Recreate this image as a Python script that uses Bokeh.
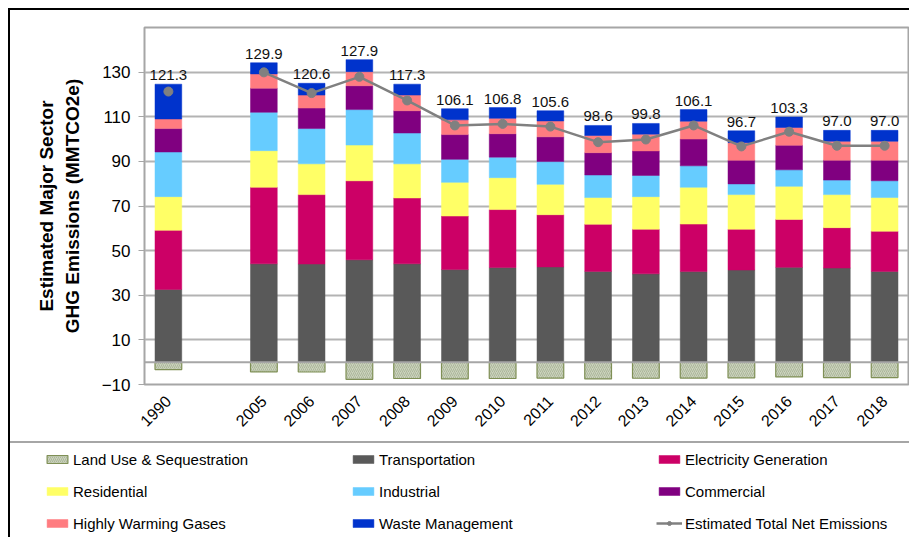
import math
from bokeh.plotting import figure
from bokeh.models import (ColumnDataSource, FactorRange, Legend, LegendItem, Span,
                          FixedTicker, Range1d)
from bokeh.layouts import column
from bokeh.embed import file_html
from bokeh.resources import INLINE
from bokeh.core.properties import value

# ---------------- data ----------------
years = ["1990", "2005", "2006", "2007", "2008", "2009", "2010", "2011",
         "2012", "2013", "2014", "2015", "2016", "2017", "2018"]
gap_label = " "
land_use = [-3.3, -4.3, -4.4, -7.7, -7.3, -7.5, -7.3, -7.1, -7.5, -7.2, -7.1, -7.0, -6.6, -6.9, -6.9]
transportation = [32.6, 44.1, 44.0, 45.9, 44.1, 41.5, 42.4, 42.7, 40.7, 39.6, 40.6, 41.3, 42.5, 42.2, 40.7]
electricity = [26.5, 34.3, 31.1, 35.4, 29.5, 24.0, 26.0, 23.4, 21.1, 20.0, 21.3, 18.3, 21.5, 18.1, 18.0]
residential = [15.1, 16.4, 13.8, 16.0, 15.3, 15.1, 14.3, 13.6, 12.0, 14.6, 16.5, 15.5, 14.8, 14.8, 15.1]
industrial = [20.0, 17.2, 15.8, 15.9, 13.8, 10.3, 9.2, 10.2, 10.1, 9.5, 9.6, 4.8, 7.4, 6.5, 7.5]
commercial = [10.5, 10.8, 9.2, 10.7, 10.0, 11.1, 10.5, 11.1, 10.0, 11.0, 12.0, 10.6, 11.0, 8.9, 9.2]
warming_gases = [4.3, 6.4, 5.8, 6.3, 7.0, 6.6, 6.9, 7.1, 7.7, 7.5, 8.0, 7.9, 8.0, 8.5, 8.5]
waste = [15.6, 5.0, 5.3, 5.4, 4.9, 5.0, 4.8, 4.6, 4.5, 4.8, 5.2, 5.3, 4.7, 4.9, 4.9]
net_total = [121.3, 129.9, 120.6, 127.9, 117.3, 106.1, 106.8, 105.6, 98.6, 99.8, 106.1, 96.7, 103.3, 97.0, 97.0]
y_ticks = [-10, 10, 30, 50, 70, 90, 110, 130]

sector_keys = ["transportation", "electricity", "residential", "industrial",
               "commercial", "warming_gases", "waste"]
sector_names = ["Transportation", "Electricity Generation", "Residential", "Industrial",
                "Commercial", "Highly Warming Gases", "Waste Management"]
sector_colors = ["#595959", "#cc0066", "#ffff66", "#66ccff", "#800080", "#ff7c80", "#0033cc"]
land_name = "Land Use & Sequestration"
net_name = "Estimated Total Net Emissions"

FONT = "Liberation Sans"

gross = [sum(v) for v in zip(transportation, electricity, residential, industrial,
                              commercial, warming_gases, waste)]
src = ColumnDataSource(dict(
    x=years, land=land_use, zero=[0] * len(years),
    transportation=transportation, electricity=electricity, residential=residential,
    industrial=industrial, commercial=commercial, warming_gases=warming_gases, waste=waste,
    net=net_total, gross=gross, label=["%.1f" % v for v in net_total],
))
line_src = ColumnDataSource(dict(x=years[1:], net=net_total[1:]))

factors = [years[0], gap_label] + years[1:]

land_kw = dict(fill_color="#cbd3bd", line_color="#7f8f55", line_width=1.2,
               hatch_pattern="/", hatch_color="#97a383", hatch_scale=4, hatch_weight=0.6)


def draw_series(fig):
    r_land = fig.vbar(x="x", top="zero", bottom="land", width=0.56, source=src, **land_kw)
    stack = fig.vbar_stack(sector_keys, x="x", width=0.56, source=src,
                           fill_color=sector_colors, line_color=sector_colors, line_width=0.5)
    r_line = fig.line(x="x", y="net", source=line_src, line_color="#808080", line_width=2.5)
    r_dot = fig.scatter(x="x", y="net", source=src, size=9,
                        fill_color="#808080", line_color="#808080")
    return r_land, stack, r_line, r_dot


# ---------------- chart ----------------
p = figure(width=909, height=441, x_range=FactorRange(factors=factors), y_range=Range1d(-10, 150),
           output_backend="svg", toolbar_location=None,
           min_border_left=144, min_border_right=1, min_border_top=27, min_border_bottom=57)
p.background_fill_color = "white"
p.border_fill_alpha = 0
p.outline_line_color = "#a6a6a6"
p.outline_line_width = 2
# white page margin, then the black frame line on top and left
p.styles = {"background-color": "white",
            "box-shadow": "inset 8px 8px 0 0 white, inset 10px 10px 0 0 black"}

draw_series(p)
p.add_layout(Span(location=0, dimension="width", line_color="#a6a6a6", line_width=2))
p.text(x="x", y="gross", text="label", source=src, text_align="center",
       text_baseline="alphabetic", y_offset=-9, text_font=value(FONT),
       text_font_size="15px", text_color="#111111")

p.xgrid.grid_line_color = None
p.ygrid.ticker = FixedTicker(ticks=y_ticks)
p.ygrid.grid_line_color = "#b3b3b3"
p.ygrid.grid_line_width = 2

p.yaxis.ticker = FixedTicker(ticks=y_ticks)
p.yaxis.axis_line_color = "#a6a6a6"
p.yaxis.major_tick_line_color = "#a6a6a6"
p.yaxis.major_tick_out = 6
p.yaxis.major_tick_in = 0
p.yaxis.minor_tick_line_color = None
p.yaxis.major_label_standoff = 8
p.yaxis.major_label_text_font = FONT
p.yaxis.major_label_text_font_size = "17px"
p.yaxis.major_label_text_color = "black"
p.yaxis.axis_label = "Estimated Major Sector\nGHG Emissions (MMTCO2e)"
p.yaxis.axis_label_text_font = FONT
p.yaxis.axis_label_text_font_size = "19px"
p.yaxis.axis_label_text_font_style = "bold"
p.yaxis.axis_label_text_color = "black"
p.yaxis.axis_label_standoff = 16

p.xaxis.axis_line_color = None
p.xaxis.major_tick_line_color = None
p.xaxis.major_label_orientation = math.pi / 4
p.xaxis.major_label_text_font = FONT
p.xaxis.major_label_text_font_size = "16px"
p.xaxis.major_label_text_color = "black"
p.xaxis.major_label_standoff = 8

# ---------------- legend panel ----------------
# same series drawn through a y-range far above the data, so only the legend shows
lg = figure(width=909, height=96, x_range=FactorRange(factors=factors), y_range=Range1d(1000, 1001),
            output_backend="svg", toolbar_location=None,
            x_axis_location=None, y_axis_location=None,
            min_border_left=0, min_border_right=0, min_border_top=0, min_border_bottom=0)
lg.grid.visible = False
lg.outline_line_color = None
lg.background_fill_alpha = 0
lg.border_fill_alpha = 0
lg.styles = {"background-color": "white",
             "box-shadow": ("inset 8px 0 0 0 white, inset 10px 0 0 0 black, "
                            "inset 0 2px 0 0 #a6a6a6")}
for fig in (p, lg):
    try:
        fig.frame_align = False
    except Exception:
        pass

l_land, l_stack, l_line, l_dot = draw_series(lg)
items = [LegendItem(label=land_name, renderers=[l_land])]
items += [LegendItem(label=n, renderers=[r]) for n, r in zip(sector_names, l_stack)]
items += [LegendItem(label=net_name, renderers=[l_line, l_dot])]
legend = Legend(items=items, orientation="horizontal", ncols=3,
                location=(44, 4), padding=9, spacing=12, margin=0,
                glyph_width=26, glyph_height=10, label_standoff=3, label_width=265,
                label_height=20, label_text_font=FONT, label_text_font_size="15px",
                label_text_color="black", border_line_color=None,
                background_fill_alpha=0)
lg.add_layout(legend, "center")

layout = column(p, lg, spacing=0)

open("out.html", "w").write(file_html(layout, INLINE))
